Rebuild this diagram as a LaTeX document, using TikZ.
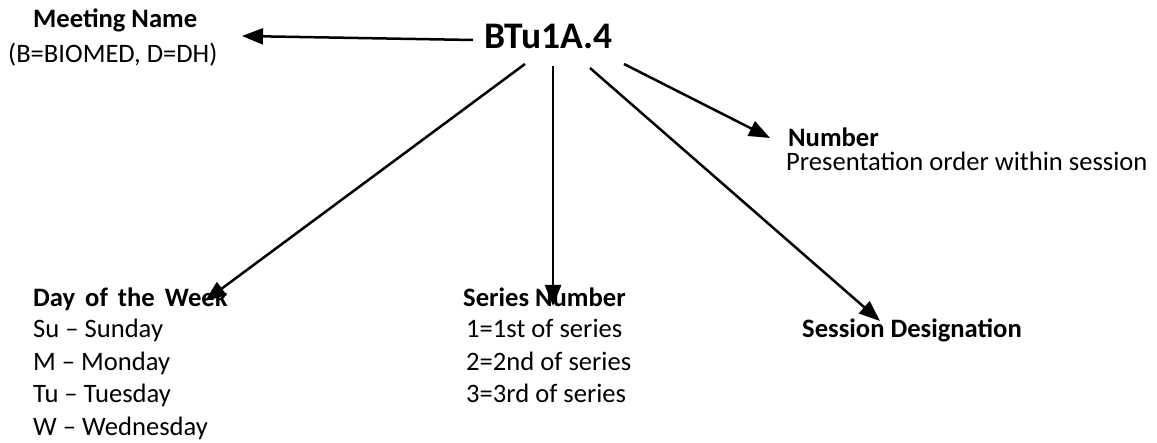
\documentclass[tikz,border=0pt]{standalone}
\usepackage{fontspec}
\setmainfont{Carlito}
\usetikzlibrary{arrows.meta}
\begin{document}
\begin{tikzpicture}[x=1pt,y=-1pt,
  txt/.style={anchor=base west,inner sep=0pt,font=\fontsize{26.6}{33}\selectfont},
  head/.style={txt,font=\fontsize{26.6}{33}\selectfont\bfseries},
  pointer/.style={line width=2.5pt,-{Triangle[length=21pt,width=16pt]}}]
\useasboundingbox (0,0) rectangle (1157,443);

% the code being explained
\node[anchor=base west,inner sep=0pt,font=\fontsize{37.5}{44}\selectfont\bfseries] (code) at (484,49) {BTu1A.4};

% meeting name
\node[head] (meet) at (33,28) {Meeting Name};
\node[txt] (meetsub) at (8,63) {(B=BIOMED, D=DH)};

% presentation number
\node[head] (num) at (788,147) {Number};
\node[txt] (numsub) at (786,171) {Presentation order within session};

% day of the week
\node[head] (day) at (33,307) {Day\hskip10pt of\hskip10pt the\hskip10pt Week};
\node[txt] (d1) at (33,338) {Su -- Sunday};
\node[txt] (d2) at (33,371) {M -- Monday};
\node[txt] (d3) at (33,403) {Tu -- Tuesday};
\node[txt] (d4) at (33,436) {W -- Wednesday};

% series number
\node[head] (ser) at (463,307) {Series Number};
\node[txt] (s1) at (466,338) {1=1st of series};
\node[txt] (s2) at (466,371) {2=2nd of series};
\node[txt] (s3) at (466,403) {3=3rd of series};

% session designation
\node[head] (sess) at (802,338) {Session Designation};

% start and end points of the pointers
\coordinate (sMeet) at (473,40);
\coordinate (sDay) at (525,64);
\coordinate (sSer) at (553,66);
\coordinate (sSess) at (590,68);
\coordinate (sNum) at (624,64);
\coordinate (tMeet) at (242,36);
\coordinate (tDay) at (205,301);
\coordinate (tSer) at (553,306);
\coordinate (tSess) at (880,321);
\coordinate (tNum) at (770,138);

\draw[pointer] (sMeet) -- (tMeet);
\draw[pointer] (sDay) -- (tDay);
\draw[pointer] (sSer) -- (tSer);
\draw[pointer] (sSess) -- (tSess);
\draw[pointer] (sNum) -- (tNum);
\end{tikzpicture}
\end{document}
